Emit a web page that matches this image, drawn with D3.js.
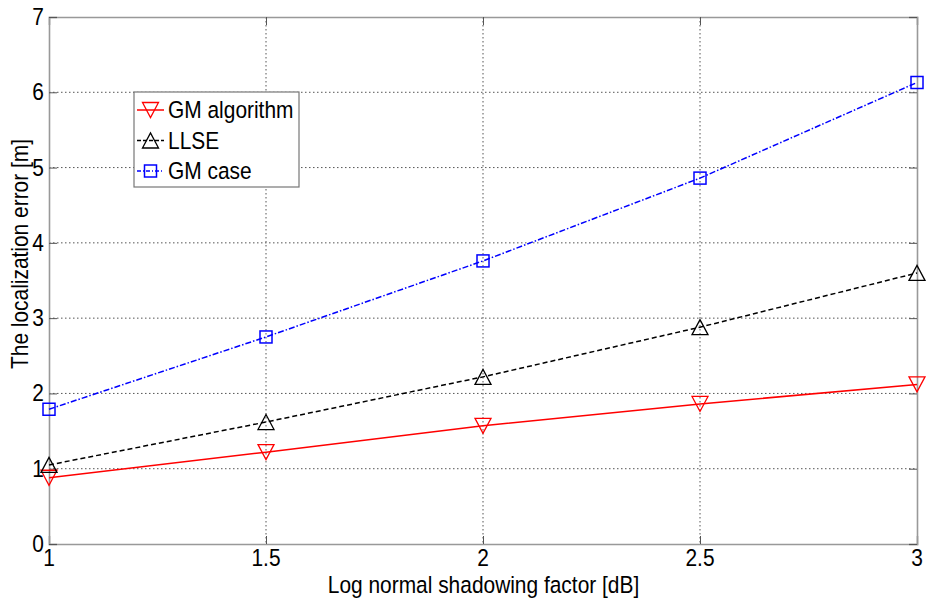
<!DOCTYPE html>
<html><head><meta charset="utf-8">
<script src="https://cdn.jsdelivr.net/npm/d3@7"></script>
<style>body{margin:0;background:#fff;} text{font-family:"Liberation Sans",Arial,sans-serif;fill:#000;}</style>
</head><body><svg id="c" width="927" height="601"></svg>
<script>
const xValues = [1, 1.5, 2, 2.5, 3];
const gmAlgorithm = [0.88, 1.22, 1.57, 1.86, 2.12];
const llse = [1.05, 1.62, 2.22, 2.88, 3.60];
const gmCase = [1.79, 2.75, 3.76, 4.86, 6.13];
const xTicks = [1, 1.5, 2, 2.5, 3];
const yTicks = [0, 1, 2, 3, 4, 5, 6, 7];
const seriesNames = ["GM algorithm", "LLSE", "GM case"];

const svg = d3.select("#c");
const L = 49, R = 917, T = 17, B = 544;
const x = d3.scaleLinear().domain([1, 3]).range([L, R]);
const y = d3.scaleLinear().domain([0, 7]).range([B, T]);
const FS = 23.5, SX = 0.89;

function txt(g, px, py, s, anchor, size) {
  return g.append("text").attr("transform", `translate(${px},${py}) scale(${SX},1)`)
    .attr("text-anchor", anchor || "start").style("font-size", (size || FS) + "px").text(s);
}

// grid
const grid = svg.append("g");
xTicks.slice(1, -1).forEach(v => grid.append("line").attr("x1", x(v)).attr("x2", x(v)).attr("y1", T).attr("y2", B)
  .attr("stroke", "#555").attr("stroke-width", 1).attr("stroke-dasharray", "1.5,2.5"));
yTicks.slice(1, -1).forEach(v => grid.append("line").attr("x1", L).attr("x2", R).attr("y1", y(v)).attr("y2", y(v))
  .attr("stroke", "#555").attr("stroke-width", 1).attr("stroke-dasharray", "1.5,2.5"));

// axes via d3 axis (ticks inward)
const axB = svg.append("g").attr("transform", `translate(0,${B})`)
  .call(d3.axisBottom(x).tickValues(xTicks).tickSize(-8).tickFormat(""));
const axT = svg.append("g").attr("transform", `translate(0,${T})`)
  .call(d3.axisTop(x).tickValues(xTicks).tickSize(-8).tickFormat(""));
const axL = svg.append("g").attr("transform", `translate(${L},0)`)
  .call(d3.axisLeft(y).tickValues(yTicks).tickSize(-8).tickFormat(""));
const axR = svg.append("g").attr("transform", `translate(${R},0)`)
  .call(d3.axisRight(y).tickValues(yTicks).tickSize(-8).tickFormat(""));
[axB, axT, axL, axR].forEach(a => { a.selectAll("path").attr("stroke", "#999").attr("stroke-width", 1.6);
  a.selectAll("line").attr("stroke", "#555").attr("stroke-width", 1); });

// tick labels
xTicks.forEach(v => txt(svg, x(v), B + 21.5, String(v), "middle"));
yTicks.forEach(v => txt(svg, L - 5, y(v) + 8, String(v), "end"));

// axis titles
txt(svg, (L + R) / 2 + 0.5, 593, "Log normal shadowing factor [dB]", "middle", 23.5);
svg.append("text").attr("transform", `translate(28,254) rotate(-90) scale(${SX},1)`)
  .attr("text-anchor", "middle").style("font-size", "23.5px").text("The localization error [m]");

// series
const series = [
  {name: seriesNames[0], vals: gmAlgorithm, color: "#ff0000", dash: null, marker: "down"},
  {name: seriesNames[1], vals: llse, color: "#000000", dash: "5,3", marker: "up"},
  {name: seriesNames[2], vals: gmCase, color: "#0000ff", dash: "6,2,1.5,2", marker: "square"}
];
const line = d3.line().x((d, i) => x(xValues[i])).y(d => y(d));

function marker(g, mx, my, type, color) {
  if (type === "square") {
    g.append("rect").attr("x", mx - 6).attr("y", my - 6).attr("width", 12).attr("height", 12)
      .attr("fill", "none").attr("stroke", color).attr("stroke-width", 1.5);
  } else {
    const s = 8, h = 7.5;
    const pts = type === "down"
      ? [[mx - s, my - h], [mx + s, my - h], [mx, my + h]]
      : [[mx - s, my + h], [mx + s, my + h], [mx, my - h]];
    g.append("polygon").attr("points", pts.map(p => p.join(",")).join(" "))
      .attr("fill", "none").attr("stroke", color).attr("stroke-width", 1.3);
  }
}

series.forEach(s => {
  const g = svg.append("g");
  g.append("path").datum(s.vals).attr("d", line).attr("fill", "none").attr("stroke", s.color)
    .attr("stroke-width", 1.5).attr("stroke-dasharray", s.dash);
  s.vals.forEach((v, i) => marker(g, x(xValues[i]), y(v), s.marker, s.color));
});

// legend
const lg = svg.append("g");
lg.append("rect").attr("x", 134).attr("y", 92).attr("width", 165).attr("height", 95)
  .attr("fill", "#fff").attr("stroke", "#777").attr("stroke-width", 1.2);
series.forEach((s, i) => {
  const cy = 110 + i * 30.5;
  lg.append("line").attr("x1", 137).attr("x2", 164).attr("y1", cy).attr("y2", cy)
    .attr("stroke", s.color).attr("stroke-width", 1.5).attr("stroke-dasharray", s.dash ? (i === 1 ? "4,2" : "4,2,1,2") : null);
  marker(lg, 150.5, cy, s.marker, s.color);
  txt(lg, 168, cy + 8, s.name, "start");
});
</script></body></html>
